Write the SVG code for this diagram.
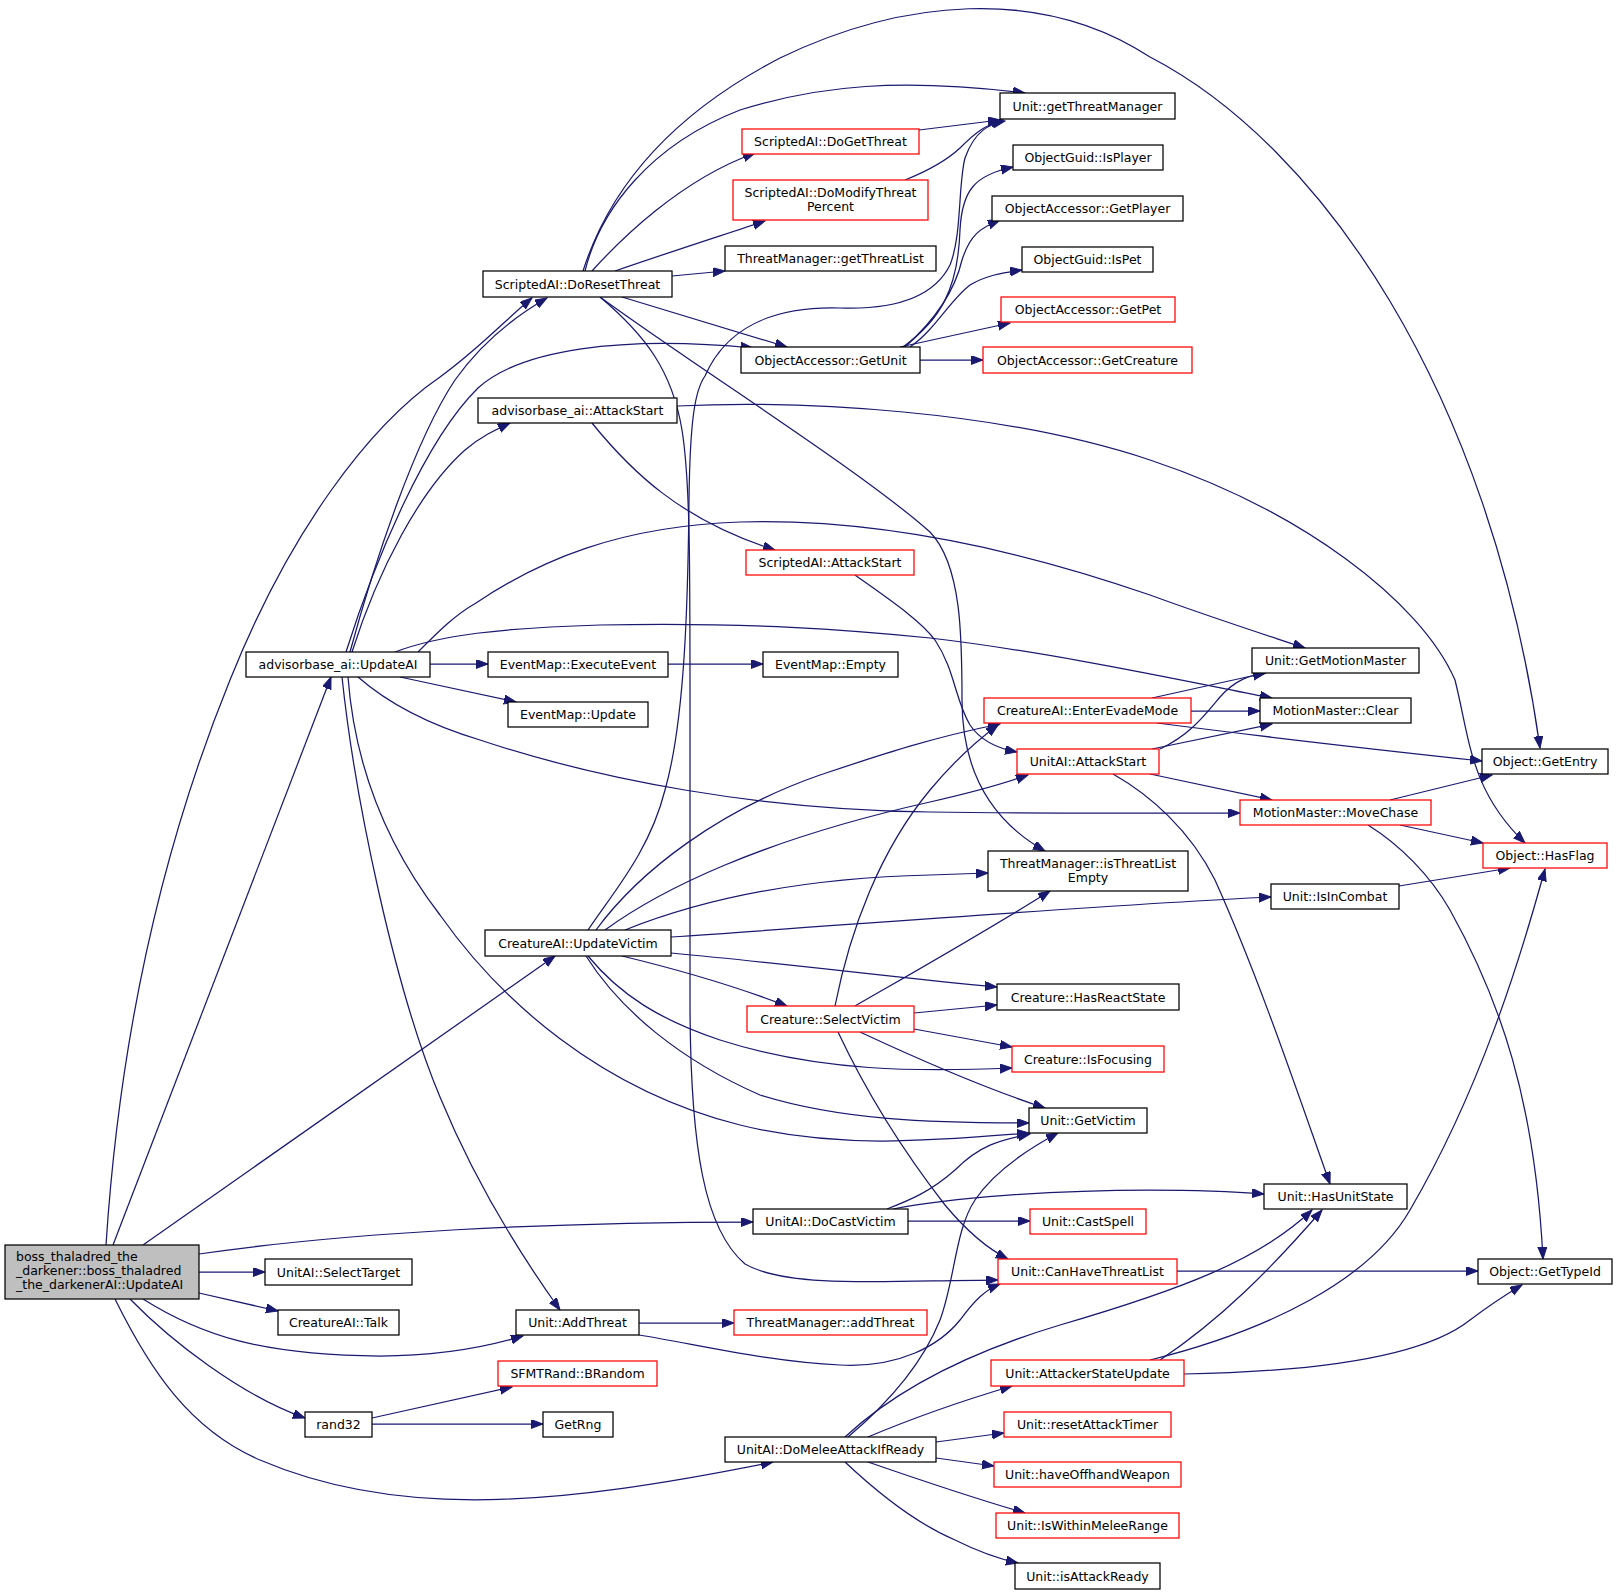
<svg xmlns="http://www.w3.org/2000/svg" width="1617" height="1595" viewBox="0 0 1617 1595">
<style>
.b{fill:#ffffff;stroke:#000000;stroke-width:1.25}
.r{fill:#ffffff;stroke:#ff0000;stroke-width:1.25}
.g{fill:#bfbfbf;stroke:#000000;stroke-width:1.25}
text{font-family:"DejaVu Sans","Liberation Sans",sans-serif;font-size:12.5px;fill:#000000}
.c{text-anchor:middle}
.e path{fill:none;stroke:#191970;stroke-width:1.25;marker-end:url(#ah)}
</style>
<defs>
<marker id="ah" markerWidth="13" markerHeight="10" refX="12" refY="4.5" orient="auto" markerUnits="userSpaceOnUse">
<path d="M0,0 L12,4.5 L0,9 z" fill="#191970" stroke="#191970" stroke-width="1"/>
</marker>
</defs>
<rect width="1617" height="1595" fill="#ffffff"/>
<g class="e" id="connectors">
<path d="M199,1272 L265,1272"/>
<path d="M199,1293 L278,1311"/>
<path d="M130,1299 C170,1340 240,1395 305,1418"/>
<path d="M115,1299 C150,1370 190,1430 260,1460 C400,1520 560,1505 773,1462"/>
<path d="M143,1299 C200,1335 260,1355 380,1356 C440,1356 490,1346 523,1336"/>
<path d="M199,1254 C350,1232 550,1222 753,1222"/>
<path d="M143,1245 L555,956"/>
<path d="M113,1245 L331,677"/>
<path d="M106,1245 C120,1030 165,840 230,680 C290,530 370,425 440,377 C480,348 505,320 532,298"/>
<path d="M350,652 C375,560 415,440 455,380 C480,345 512,318 547,298"/>
<path d="M352,652 C378,570 420,490 465,450 C480,437 495,430 510,423"/>
<path d="M346,652 C375,560 425,440 478,388 C520,350 620,335 753,348"/>
<path d="M430,664 L488,664"/>
<path d="M400,677 L516,702"/>
<path d="M418,652 C440,630 455,615 476,603 C540,560 620,526 740,522 C880,518 1020,550 1150,595 C1210,617 1260,633 1305,648"/>
<path d="M395,652 C440,635 500,628 600,625 C750,622 850,630 930,638 C1050,652 1180,680 1272,698"/>
<path d="M358,677 C390,705 430,725 480,740 C600,780 760,810 930,812 C1050,814 1150,813 1240,813"/>
<path d="M348,677 C355,770 390,850 440,915 C500,1000 600,1090 740,1125 C840,1150 940,1140 1029,1133"/>
<path d="M342,677 C355,800 395,990 440,1097 C470,1170 510,1240 560,1310"/>
<path d="M585,271 C600,210 650,145 740,110 C820,85 900,78 1025,93"/>
<path d="M583,271 C612,180 680,110 780,58 C900,0 1040,-15 1150,57 C1320,145 1490,390 1540,748"/>
<path d="M592,271 C620,240 680,180 755,153"/>
<path d="M615,271 C670,252 720,236 765,221"/>
<path d="M672,276 L725,271"/>
<path d="M622,297 L787,347"/>
<path d="M600,297 C700,370 860,470 930,532 C962,565 962,640 962,700 C962,770 990,820 1045,851"/>
<path d="M600,297 C645,335 672,370 682,430 C690,480 690,560 690,700 L690,1000 C690,1150 705,1230 745,1264 C790,1290 900,1280 998,1280"/>
<path d="M592,423 C630,470 680,520 775,550"/>
<path d="M677,406 C800,400 1000,410 1150,460 C1300,510 1420,600 1455,680 C1470,740 1470,790 1525,843"/>
<path d="M855,575 C890,600 920,620 935,640 C955,670 955,700 970,725 C980,740 995,748 1017,752"/>
<path d="M920,360 L983,360"/>
<path d="M900,347 L1010,323"/>
<path d="M910,347 C935,330 950,300 970,285 C985,276 1000,273 1022,270"/>
<path d="M905,347 C935,320 955,290 962,260 C970,235 980,228 1000,220"/>
<path d="M903,347 C940,320 958,290 960,230 C962,190 975,175 1013,167"/>
<path d="M919,130 L1000,120"/>
<path d="M905,180 C925,172 945,162 960,148 C975,133 985,125 1003,120"/>
<path d="M588,930 C615,890 650,850 665,790 C685,720 688,600 689,500 C690,420 695,390 705,376 C725,330 770,306 840,308 C900,310 935,295 950,265 C962,235 958,185 965,158 C975,130 990,124 1005,121"/>
<path d="M596,930 C640,870 720,810 820,775 C880,755 930,738 1000,724"/>
<path d="M605,930 C660,890 760,840 930,802 C970,793 1000,785 1028,775"/>
<path d="M625,930 C700,900 800,878 930,875 L988,873"/>
<path d="M671,937 C850,925 1100,905 1271,897"/>
<path d="M671,953 C800,965 900,978 997,987"/>
<path d="M622,956 C680,970 740,988 787,1006"/>
<path d="M588,956 C620,995 660,1020 720,1040 C820,1072 920,1072 1012,1068"/>
<path d="M586,956 C620,1010 680,1060 760,1095 C840,1120 930,1123 1029,1123"/>
<path d="M835,1006 C850,930 880,850 930,790 C955,760 975,742 998,725"/>
<path d="M914,1013 L997,1005"/>
<path d="M855,1006 C900,980 980,935 1050,891"/>
<path d="M914,1029 L1012,1047"/>
<path d="M860,1032 C920,1060 990,1090 1045,1108"/>
<path d="M838,1032 C870,1100 910,1160 945,1205 C970,1235 990,1250 1008,1259"/>
<path d="M1160,749 C1190,735 1205,715 1220,697 C1235,680 1250,675 1266,673"/>
<path d="M1152,749 L1272,724"/>
<path d="M1150,774 L1272,800"/>
<path d="M1113,774 C1150,795 1190,830 1215,880 C1260,980 1300,1100 1330,1184"/>
<path d="M1152,698 L1265,673"/>
<path d="M1191,711 L1260,711"/>
<path d="M1157,723 C1250,735 1380,750 1482,761"/>
<path d="M1390,800 L1492,775"/>
<path d="M1400,825 L1483,843"/>
<path d="M1368,825 C1400,845 1430,875 1450,910 C1500,1000 1535,1100 1543,1259"/>
<path d="M1399,886 L1510,868"/>
<path d="M1150,1360 C1270,1330 1370,1280 1410,1210 C1480,1090 1520,960 1545,869"/>
<path d="M1160,1360 C1220,1320 1270,1270 1322,1210"/>
<path d="M1184,1374 C1300,1372 1420,1360 1470,1320 C1490,1305 1505,1295 1522,1285"/>
<path d="M1177,1271 L1478,1271"/>
<path d="M639,1323 L734,1323"/>
<path d="M639,1335 C700,1345 770,1362 840,1365 C900,1368 940,1345 960,1320 C975,1300 985,1290 1000,1284"/>
<path d="M887,1209 C910,1200 930,1192 955,1170 C980,1145 1000,1140 1030,1134"/>
<path d="M893,1209 C950,1198 1050,1190 1150,1190 C1200,1190 1240,1192 1264,1194"/>
<path d="M908,1221 L1030,1221"/>
<path d="M848,1437 C880,1410 920,1370 940,1320 C955,1280 955,1230 975,1200 C995,1170 1030,1148 1058,1133"/>
<path d="M845,1437 C890,1395 960,1355 1060,1325 C1180,1290 1260,1260 1312,1210"/>
<path d="M868,1437 C920,1415 965,1400 1012,1386"/>
<path d="M936,1442 L1004,1433"/>
<path d="M936,1458 L994,1466"/>
<path d="M868,1462 C920,1480 970,1497 1025,1513"/>
<path d="M845,1462 C880,1495 920,1525 955,1540 C975,1550 995,1558 1018,1563"/>
<path d="M372,1418 L512,1387"/>
<path d="M372,1424 L543,1424"/>
<path d="M668,664 L763,664"/>
</g>
<g id="n0"><rect class="g" x="5" y="1245" width="194" height="54"/><text x="16" y="1261">boss_thaladred_the</text><text x="16" y="1275">_darkener::boss_thaladred</text><text x="16" y="1289">_the_darkenerAI::UpdateAI</text></g>
<g id="n1"><rect class="b" x="265" y="1259" width="147" height="26"/><text class="c" x="338.5" y="1276.5">UnitAI::SelectTarget</text></g>
<g id="n2"><rect class="b" x="278" y="1310" width="121" height="25"/><text class="c" x="338.5" y="1327">CreatureAI::Talk</text></g>
<g id="n3"><rect class="b" x="305" y="1412" width="67" height="25"/><text class="c" x="338.5" y="1429">rand32</text></g>
<g id="n4"><rect class="b" x="246" y="652" width="184" height="25"/><text class="c" x="338" y="669">advisorbase_ai::UpdateAI</text></g>
<g id="n5"><rect class="b" x="483" y="271" width="189" height="26"/><text class="c" x="577.5" y="288.5">ScriptedAI::DoResetThreat</text></g>
<g id="n6"><rect class="b" x="478" y="398" width="199" height="25"/><text class="c" x="577.5" y="415">advisorbase_ai::AttackStart</text></g>
<g id="n7"><rect class="b" x="488" y="652" width="180" height="25"/><text class="c" x="578" y="669">EventMap::ExecuteEvent</text></g>
<g id="n8"><rect class="b" x="508" y="702" width="140" height="25"/><text class="c" x="578" y="719">EventMap::Update</text></g>
<g id="n9"><rect class="b" x="485" y="930" width="186" height="26"/><text class="c" x="578" y="947.5">CreatureAI::UpdateVictim</text></g>
<g id="n10"><rect class="b" x="516" y="1310" width="123" height="25"/><text class="c" x="577.5" y="1327">Unit::AddThreat</text></g>
<g id="n11"><rect class="r" x="498" y="1361" width="159" height="25"/><text class="c" x="577.5" y="1378">SFMTRand::BRandom</text></g>
<g id="n12"><rect class="b" x="543" y="1412" width="70" height="25"/><text class="c" x="578" y="1429">GetRng</text></g>
<g id="n13"><rect class="r" x="742" y="129" width="177" height="25"/><text class="c" x="830.5" y="146">ScriptedAI::DoGetThreat</text></g>
<g id="n14"><rect class="r" x="733" y="180" width="195" height="40"/><text class="c" x="830.5" y="196.5">ScriptedAI::DoModifyThreat</text><text class="c" x="830.5" y="211">Percent</text></g>
<g id="n15"><rect class="b" x="725" y="246" width="211" height="25"/><text class="c" x="830.5" y="263">ThreatManager::getThreatList</text></g>
<g id="n16"><rect class="b" x="741" y="347" width="179" height="26"/><text class="c" x="830.5" y="364.5">ObjectAccessor::GetUnit</text></g>
<g id="n17"><rect class="r" x="746" y="550" width="168" height="25"/><text class="c" x="830" y="567">ScriptedAI::AttackStart</text></g>
<g id="n18"><rect class="b" x="763" y="652" width="135" height="25"/><text class="c" x="830.5" y="669">EventMap::Empty</text></g>
<g id="n19"><rect class="r" x="747" y="1006" width="167" height="26"/><text class="c" x="830.5" y="1023.5">Creature::SelectVictim</text></g>
<g id="n20"><rect class="b" x="753" y="1209" width="155" height="25"/><text class="c" x="830.5" y="1226">UnitAI::DoCastVictim</text></g>
<g id="n21"><rect class="r" x="734" y="1310" width="193" height="25"/><text class="c" x="830.5" y="1327">ThreatManager::addThreat</text></g>
<g id="n22"><rect class="b" x="725" y="1437" width="211" height="25"/><text class="c" x="830.5" y="1454">UnitAI::DoMeleeAttackIfReady</text></g>
<g id="n23"><rect class="b" x="1000" y="93" width="175" height="26"/><text class="c" x="1087.5" y="110.5">Unit::getThreatManager</text></g>
<g id="n24"><rect class="b" x="1013" y="145" width="150" height="25"/><text class="c" x="1088" y="162">ObjectGuid::IsPlayer</text></g>
<g id="n25"><rect class="b" x="992" y="196" width="191" height="25"/><text class="c" x="1087.5" y="213">ObjectAccessor::GetPlayer</text></g>
<g id="n26"><rect class="b" x="1022" y="247" width="131" height="25"/><text class="c" x="1087.5" y="264">ObjectGuid::IsPet</text></g>
<g id="n27"><rect class="r" x="1001" y="297" width="174" height="25"/><text class="c" x="1088" y="314">ObjectAccessor::GetPet</text></g>
<g id="n28"><rect class="r" x="983" y="347" width="209" height="26"/><text class="c" x="1087.5" y="364.5">ObjectAccessor::GetCreature</text></g>
<g id="n29"><rect class="r" x="984" y="698" width="207" height="25"/><text class="c" x="1087.5" y="715">CreatureAI::EnterEvadeMode</text></g>
<g id="n30"><rect class="r" x="1017" y="749" width="142" height="25"/><text class="c" x="1088" y="766">UnitAI::AttackStart</text></g>
<g id="n31"><rect class="b" x="988" y="851" width="200" height="40"/><text class="c" x="1088" y="867.5">ThreatManager::isThreatList</text><text class="c" x="1088" y="882">Empty</text></g>
<g id="n32"><rect class="b" x="997" y="984" width="182" height="26"/><text class="c" x="1088" y="1001.5">Creature::HasReactState</text></g>
<g id="n33"><rect class="r" x="1012" y="1046" width="152" height="26"/><text class="c" x="1088" y="1063.5">Creature::IsFocusing</text></g>
<g id="n34"><rect class="b" x="1029" y="1108" width="118" height="25"/><text class="c" x="1088" y="1125">Unit::GetVictim</text></g>
<g id="n35"><rect class="r" x="1030" y="1209" width="116" height="25"/><text class="c" x="1088" y="1226">Unit::CastSpell</text></g>
<g id="n36"><rect class="r" x="998" y="1259" width="179" height="25"/><text class="c" x="1087.5" y="1276">Unit::CanHaveThreatList</text></g>
<g id="n37"><rect class="r" x="991" y="1360" width="193" height="26"/><text class="c" x="1087.5" y="1377.5">Unit::AttackerStateUpdate</text></g>
<g id="n38"><rect class="r" x="1004" y="1412" width="167" height="25"/><text class="c" x="1087.5" y="1429">Unit::resetAttackTimer</text></g>
<g id="n39"><rect class="r" x="994" y="1462" width="187" height="25"/><text class="c" x="1087.5" y="1479">Unit::haveOffhandWeapon</text></g>
<g id="n40"><rect class="r" x="996" y="1513" width="183" height="25"/><text class="c" x="1087.5" y="1530">Unit::IsWithinMeleeRange</text></g>
<g id="n41"><rect class="b" x="1015" y="1563" width="145" height="26"/><text class="c" x="1087.5" y="1580.5">Unit::isAttackReady</text></g>
<g id="n42"><rect class="b" x="1252" y="648" width="167" height="25"/><text class="c" x="1335.5" y="665">Unit::GetMotionMaster</text></g>
<g id="n43"><rect class="b" x="1260" y="698" width="151" height="25"/><text class="c" x="1335.5" y="715">MotionMaster::Clear</text></g>
<g id="n44"><rect class="r" x="1240" y="800" width="191" height="25"/><text class="c" x="1335.5" y="817">MotionMaster::MoveChase</text></g>
<g id="n45"><rect class="b" x="1271" y="884" width="128" height="25"/><text class="c" x="1335" y="901">Unit::IsInCombat</text></g>
<g id="n46"><rect class="b" x="1264" y="1184" width="143" height="25"/><text class="c" x="1335.5" y="1201">Unit::HasUnitState</text></g>
<g id="n47"><rect class="b" x="1482" y="749" width="126" height="25"/><text class="c" x="1545" y="766">Object::GetEntry</text></g>
<g id="n48"><rect class="r" x="1483" y="843" width="124" height="25"/><text class="c" x="1545" y="860">Object::HasFlag</text></g>
<g id="n49"><rect class="b" x="1478" y="1259" width="134" height="25"/><text class="c" x="1545" y="1276">Object::GetTypeId</text></g>
</svg>
